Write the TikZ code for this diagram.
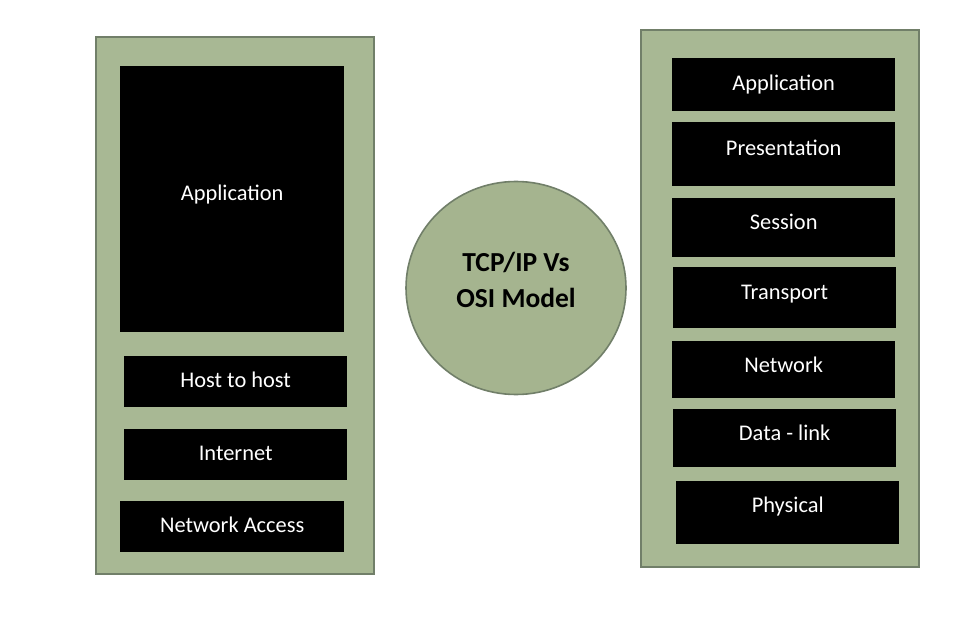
\documentclass[tikz,border=0pt]{standalone}
\usepackage{fontspec}
\setmainfont{Carlito}
\usetikzlibrary{shapes.geometric}
\definecolor{sage}{HTML}{A8B894}
\definecolor{sagedark}{HTML}{717F69}
\definecolor{hubfill}{HTML}{A5B48F}
\tikzset{
  panel/.style={fill=sage, draw=sagedark, line width=1.8pt},
  layer/.style={fill=black, text=white, anchor=north west, inner sep=0pt,
    font=\fontsize{22.4}{26}\selectfont, text height=16pt, text depth=#1},
  layer/.default=4pt
}
\begin{document}
\begin{tikzpicture}[x=1pt,y=-1pt]
\useasboundingbox (0,0) rectangle (955,639);

% TCP/IP stack
\draw[panel] (96,37) rectangle (374,574);
\node (appl) [layer=13pt, minimum width=224pt, minimum height=266pt] at (120,66) {Application};
\node (host) [layer, minimum width=223pt, minimum height=51pt] at (124,356) {Host to host};
\node (inet) [layer, minimum width=223pt, minimum height=51pt] at (124,429) {Internet};
\node (nacc) [layer, minimum width=224pt, minimum height=51pt] at (120,501) {Network Access};

% title
\node (hub) [ellipse, fill=hubfill, draw=sagedark, line width=1.6pt,
  minimum width=220pt, minimum height=213pt] at (516,288) {};
\node (title) [font=\bfseries\fontsize{27.5}{36}\selectfont, align=center] at (516,280) {TCP/IP Vs\\OSI Model};

% OSI stack
\draw[panel] (641,30) rectangle (919,567);
\node (app)   [layer, minimum width=223pt, minimum height=53pt] at (672,58) {Application};
\node (pres)  [layer=13pt, minimum width=223pt, minimum height=64pt] at (672,122) {Presentation};
\node (sess)  [layer=12pt, minimum width=223pt, minimum height=59pt] at (672,198) {Session};
\node (trans) [layer=12pt, minimum width=223pt, minimum height=61pt] at (673,267) {Transport};
\node (net)   [layer=10pt, minimum width=223pt, minimum height=57pt] at (672,341) {Network};
\node (dlink) [layer=11pt, minimum width=223pt, minimum height=58pt] at (673,409) {Data - link};
\node (phys)  [layer=16pt, minimum width=223pt, minimum height=63pt] at (676,481) {Physical};
\end{tikzpicture}
\end{document}
